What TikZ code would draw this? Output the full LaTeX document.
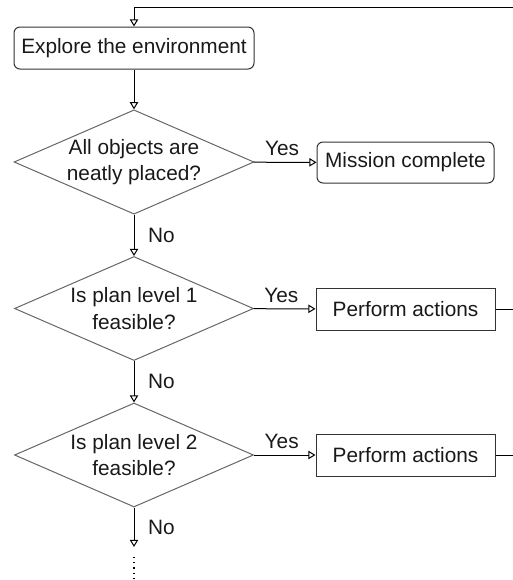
\documentclass[tikz,border=0pt]{standalone}
\usepackage{fontspec}
\setmainfont{Liberation Sans}
\usetikzlibrary{shapes.geometric,arrows.meta}

\begin{document}
\begin{tikzpicture}[x=0.5pt,y=-0.5pt,
  >={Triangle[open,length=3.6pt,width=4.2pt]},
  every node/.style={font=\fontsize{10.4}{13.3}\selectfont, text=black!90},
  flow/.style={->, line width=0.5pt, black},
  roundbox/.style={draw=black!80, line width=0.5pt, rectangle, rounded corners=3pt, inner sep=0pt},
  actbox/.style={draw=black!80, line width=0.5pt, rectangle, inner sep=0pt, minimum width=89.5pt, minimum height=21pt},
  query/.style={draw=black!60, line width=0.5pt, diamond, aspect=2.3, inner sep=0pt, align=center, minimum width=119.5pt, minimum height=52pt}]
\useasboundingbox (0,0) rectangle (513,580);

\node[roundbox, minimum width=120pt, minimum height=21pt] (e) at (134,48) {Explore the environment};
\node[query] (q1) at (134,162) {All objects are\\neatly placed?};
\node[roundbox, minimum width=88.5pt, minimum height=20.5pt] (m) at (405.5,162.5) {Mission complete};
\node[query] (q2) at (134,308.5) {Is plan level 1\\feasible?};
\node[actbox] (p1) at (405.5,309) {Perform actions};
\node[query] (q3) at (134,455) {Is plan level 2\\feasible?};
\node[actbox] (p2) at (405.5,455) {Perform actions};

\coordinate (back) at (513,7);
\coordinate (r1) at (513,309);
\coordinate (r2) at (513,455);
\coordinate (n3) at (134,547);
\coordinate (d1) at (134,557);
\coordinate (d2) at (134,580);

\draw[flow] (back) -| (e);
\draw[flow] (e)--(q1);
\draw[flow] (q1)--node[pos=0.45, above=-0.5pt]{Yes}(m);
\draw[flow] (q1)--node[midway, right=3.5pt]{No}(q2);
\draw[flow] (q2)--node[pos=0.45, above=-0.5pt]{Yes}(p1);
\draw[flow] (q2)--node[midway, right=3.5pt]{No}(q3);
\draw[flow] (q3)--node[pos=0.45, above=-0.5pt]{Yes}(p2);
\draw[flow] (q3.south)--node[midway, right=3.5pt]{No}(n3);
\draw[line width=0.5pt] (p1)--(r1);
\draw[line width=0.5pt] (p2)--(r2);
%\draw[->] (q3.south)--(134,547);
\draw[line width=0.6pt, dotted] (d1)--(d2);
\end{tikzpicture}
\end{document}
